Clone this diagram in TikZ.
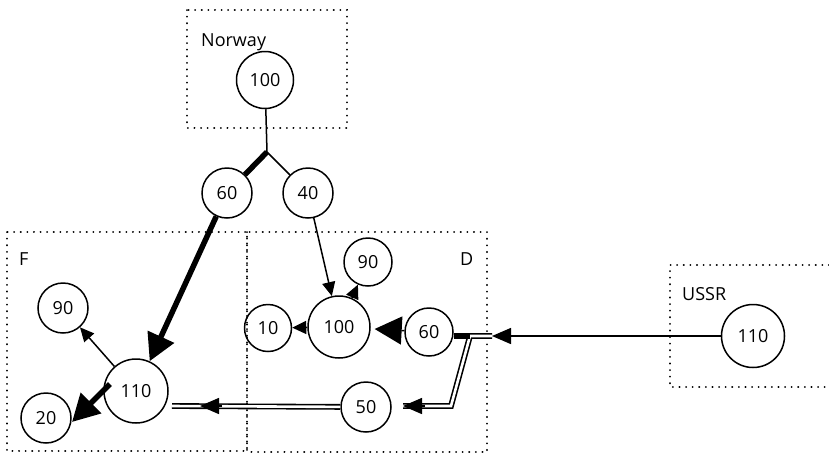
\documentclass[tikz,border=0pt]{standalone}
\usepackage{fontspec}
\setmainfont{Open Sans}
\usetikzlibrary{arrows.meta}
\begin{document}
\begin{tikzpicture}[x=1pt,y=-1pt,
  circ/.style={circle,draw,line width=1.5pt,inner sep=0pt,minimum size=#1,font=\fontsize{18}{20}\selectfont},
  lbl/.style={anchor=base west,inner sep=0pt,font=\fontsize{18}{20}\selectfont},
  box/.style={line width=2pt,dash pattern=on 0.1pt off 6.5pt,line cap=round},
  thinln/.style={line width=1.5pt},
  thickln/.style={line width=5.5pt},
  dbl/.style={line width=1.6pt,double=white,double distance=2.6pt},
  bigtri/.tip={Triangle[length=27pt,width=28pt]},
  midtri/.tip={Triangle[length=19pt,width=16pt]},
  smalltri/.tip={Triangle[length=14pt,width=13pt]}]
\useasboundingbox (0,0) rectangle (829,456);
% boxes
\draw[box] (187,10) rectangle (347,128);
\draw[box] (7,232) rectangle (247,451);
\draw[box] (247,232) rectangle (487,452);
\draw[box] (829,265) -- (670,265) -- (670,387) -- (829,387);
% labels
\node[lbl] (lnor) at (201,46) {Norway};
\node[lbl] (lf) at (19,265) {F};
\node[lbl] (ld) at (460,265) {D};
\node[lbl] (lu) at (682,300) {USSR};
% nodes
\node[circ=57pt] (nor100) at (265,80) {100};
\node[circ=50pt] (n60) at (227,193) {60};
\node[circ=50pt] (n40) at (308,193) {40};
\node[circ=50pt] (f90) at (63,308) {90};
\node[circ=50pt] (f20) at (46,418) {20};
\node[circ=64pt] (f110) at (136,391) {110};
\node[circ=48pt] (d90) at (368,262) {90};
\node[circ=62pt] (d100) at (339,327) {100};
\node[circ=47pt] (d10) at (268,328) {10};
\node[circ=48pt] (d60) at (429,332) {60};
\node[circ=50pt] (d50) at (366,407) {50};
\node[circ=63pt] (u110) at (753,336) {110};
% coordinates
\coordinate (J) at (267,152);
\coordinate (K) at (492,336);
\coordinate (B1) at (470,336);
\coordinate (B2) at (451,406);
\coordinate (T50) at (403,406);
\coordinate (T50b) at (425,406);
\coordinate (Fend) at (172,406);
\coordinate (T110) at (200,406);
\coordinate (T110b) at (222,406);
\coordinate (FS) at (110,384);
\coordinate (FT) at (72,422);
% connectors
\draw[thinln] (nor100) -- (J);
\draw[thickln] (J) -- (n60);
\draw[thinln] (J) -- (n40);
\draw[thickln,-{bigtri}] (n60) -- (f110);
\draw[thinln,-{smalltri}] (n40) -- (d100);
\draw[thinln,-{smalltri}] (d100) -- (d90);
\draw[thinln,-{smalltri}] (d100) -- (d10);
\draw[thinln,-{bigtri},shorten >=4pt] (d60) -- (d100);
\draw[thinln,-{midtri}] (u110) -- (K);
\draw[dbl] (K) -- (B1) -- (B2) -- (T50);
\draw[thickln] (d60.east |- B1) -- (B1);
\draw[thinln,-{midtri}] (T50b) -- (T50);
\draw[dbl] (d50) -- (Fend);
\draw[thinln,-{midtri}] (T110b) -- (T110);
\draw[thinln,-{smalltri}] (f110) -- (f90);
\draw[thickln,-{bigtri}] (FS) -- (FT);
\end{tikzpicture}
\end{document}
